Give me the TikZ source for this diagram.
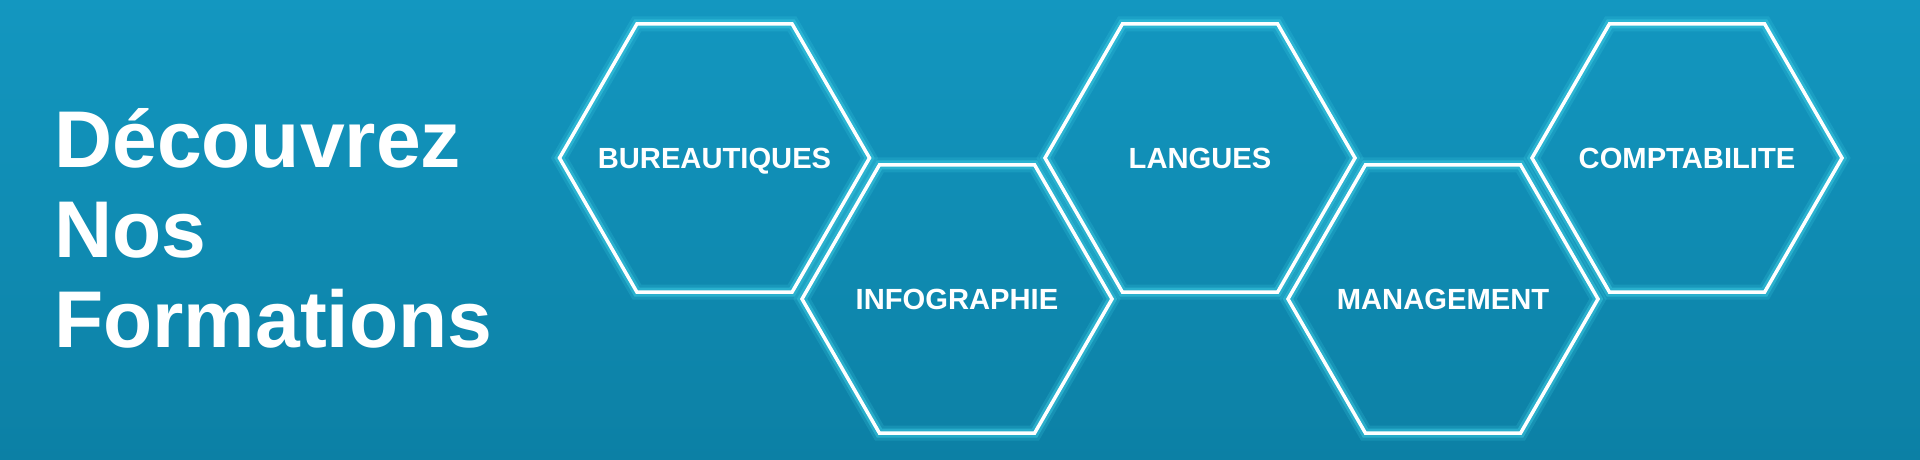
\documentclass[tikz,border=0pt]{standalone}
\usepackage{fontspec}
\setmainfont{Liberation Sans}
\usepackage{xcolor}
\usetikzlibrary{shapes}

\definecolor{bgtop}{HTML}{1397C0}
\definecolor{bgbottom}{HTML}{0C80A5}
\definecolor{glowcyan}{HTML}{3FD0E6}

\tikzset{
  hexbox/.style={regular polygon, regular polygon sides=6, minimum size=3.1cm, inner sep=0pt,
    draw=white, line width=0.035cm,
    preaction={draw=glowcyan, line width=0.15cm, opacity=0.2},
    preaction={draw=glowcyan, line width=0.09cm, opacity=0.45}},
  hexlabel/.style={inner sep=0pt, text depth=0pt, text=white, font=\fontsize{8.3}{10}\selectfont\bfseries},
  titletext/.style={anchor=base west, inner sep=0pt, text=white,
    font=\fontsize{22.9}{27}\selectfont\bfseries}
}

\begin{document}
\begin{tikzpicture}
    \useasboundingbox (0,0) rectangle (19.2,4.59);
    \shade[top color=bgtop, bottom color=bgbottom] (0,0) rectangle (19.2,4.59);

    % Title
    \node[titletext] (decouvrez) at (0.535,2.91) {Découvrez};
    \node[titletext] (nos) at (0.535,2.01) {Nos};
    \node[titletext] (formations) at (0.535,1.11) {Formations};

    % Hexagons, top row and bottom row
    \node[hexbox, label={[hexlabel]center:BUREAUTIQUES}] (bureautiques) at (7.145,3.01) {};
    \node[hexbox, label={[hexlabel]center:INFOGRAPHIE}] (infographie) at (9.57,1.60) {};
    \node[hexbox, label={[hexlabel]center:LANGUES}] (langues) at (12.00,3.01) {};
    \node[hexbox, label={[hexlabel]center:MANAGEMENT}] (management) at (14.43,1.60) {};
    \node[hexbox, label={[hexlabel]center:COMPTABILITE}] (comptabilite) at (16.87,3.01) {};
\end{tikzpicture}
\end{document}
